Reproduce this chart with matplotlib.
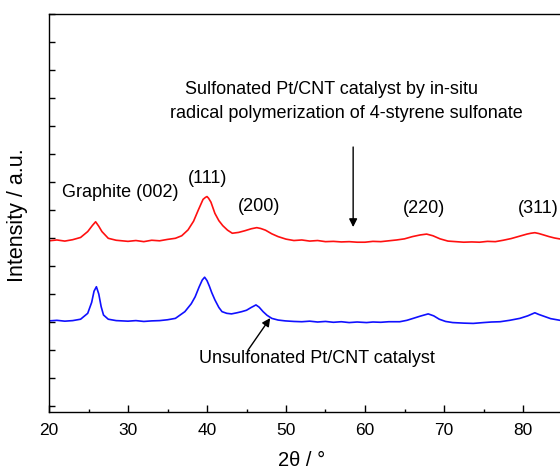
import numpy as np
import matplotlib
matplotlib.use('Agg')
import matplotlib.pyplot as plt

plt.rcParams['font.family'] = ['Liberation Sans', 'DejaVu Sans']

# ---------------------------------------------------------------
# data (2theta in deg, intensity in a.u.)
# ---------------------------------------------------------------
red_2theta = [20, 21, 22, 23, 24, 24.9, 25.5, 25.9, 26.3, 26.7, 27.5, 28.5,
              30, 31, 32, 33, 34, 35, 36, 36.8, 37.6, 38.3, 38.9, 39.5,
              39.8, 40.0, 40.2, 40.5, 41.0, 41.5, 42.0, 42.6, 43.2, 44.0,
              44.8, 45.6, 46.3, 46.8, 47.4, 48.2, 49.0, 50.0, 51, 52, 53,
              54, 55, 56, 57, 58, 59, 60, 61, 62, 63, 64, 65, 66, 67, 67.8,
              68.6, 69.5, 70.5, 71.5, 72.5, 73.5, 74.5, 75.5, 76.5, 77.5,
              78.5, 79.5, 80.5, 81.0, 81.5, 82.0, 82.6, 83.3, 84.0, 85.0]
red_intensity = [5.90, 5.93, 5.89, 5.94, 6.02, 6.23, 6.45, 6.58, 6.42, 6.23,
                 5.99, 5.92, 5.88, 5.91, 5.87, 5.92, 5.90, 5.95, 5.99, 6.08,
                 6.29, 6.60, 7.00, 7.38, 7.45, 7.48, 7.42, 7.28, 6.88, 6.62,
                 6.44, 6.28, 6.17, 6.20, 6.26, 6.33, 6.37, 6.34, 6.28, 6.15,
                 6.05, 5.96, 5.91, 5.93, 5.89, 5.91, 5.87, 5.88, 5.86, 5.87,
                 5.85, 5.85, 5.88, 5.87, 5.90, 5.93, 5.97, 6.05, 6.11, 6.14,
                 6.08, 5.97, 5.89, 5.87, 5.85, 5.86, 5.85, 5.88, 5.87, 5.92,
                 5.98, 6.06, 6.14, 6.17, 6.19, 6.16, 6.11, 6.05, 6.00, 5.95]

blue_2theta = [20, 21, 22, 23, 24, 24.9, 25.4, 25.7, 26.0, 26.3, 26.6, 26.9,
               27.5, 28.5, 30, 31, 32, 33, 34, 35, 36, 37.2, 38.0, 38.5,
               39.0, 39.4, 39.7, 40.0, 40.3, 40.6, 41.0, 41.5, 41.9, 42.5,
               43.1, 43.8, 44.4, 45.0, 45.6, 46.2, 46.6, 47.1, 47.6, 48.2,
               49.0, 49.9, 51, 52, 53, 54, 55, 56, 57, 58, 59, 60.2, 61, 62,
               63, 64.4, 65.3, 66.1, 67, 68, 68.7, 69.4, 70.2, 71.1, 72.5,
               73.7, 75, 76, 77.1, 78.3, 79.6, 80.6, 81.5, 82.0, 82.6, 83.5,
               84.7, 85.5]
blue_intensity = [3.04, 3.06, 3.03, 3.05, 3.10, 3.31, 3.70, 4.10, 4.26, 4.00,
                  3.55, 3.25, 3.10, 3.05, 3.03, 3.05, 3.02, 3.04, 3.05, 3.08,
                  3.13, 3.37, 3.65, 3.90, 4.25, 4.50, 4.60, 4.48, 4.28, 4.05,
                  3.79, 3.52, 3.37, 3.31, 3.29, 3.33, 3.37, 3.42, 3.52, 3.61,
                  3.53, 3.37, 3.24, 3.13, 3.07, 3.04, 3.02, 3.01, 3.03, 3.00,
                  3.02, 2.99, 3.01, 2.98, 3.00, 2.98, 3.00, 2.99, 3.01, 3.01,
                  3.06, 3.13, 3.21, 3.29, 3.22, 3.10, 3.02, 2.98, 2.96, 2.95,
                  2.98, 3.00, 3.01, 3.06, 3.13, 3.22, 3.33, 3.27, 3.21, 3.12,
                  3.06, 3.04]

peak_labels = ['Graphite (002)', '(111)', '(200)', '(220)', '(311)']
peak_label_x = [29.0, 40.1, 46.6, 67.5, 81.9]
peak_label_y = [7.64, 8.14, 7.11, 7.07, 7.07]

x_ticks = [20, 30, 40, 50, 60, 70, 80]
x_minor = [25, 35, 45, 55, 65, 75, 85]
y_ticks = list(range(0, 15))

# ---------------------------------------------------------------
# figure
# ---------------------------------------------------------------
fig = plt.figure(figsize=(5.6, 4.7), dpi=100)
# axes runs past the right edge like in the (cropped) reference
ax = fig.add_axes([0.0875, 0.1234, 0.9875, 0.8468])

ax.plot(red_2theta, red_intensity, color='#ff1010', linewidth=1.2)
ax.plot(blue_2theta, blue_intensity, color='#1010ff', linewidth=1.2)

ax.set_xlim(20, 90)
ax.set_ylim(-0.214, 14)

ax.set_xticks(x_ticks)
ax.set_xticks(x_minor, minor=True)
ax.set_yticks(y_ticks)
ax.set_yticklabels([])
ax.tick_params(direction='in', width=1.0, labelsize=12.5, pad=8)
ax.tick_params(axis='x', which='major', length=5)
ax.tick_params(axis='x', which='minor', length=2.5, width=1.0, direction='in')
ax.tick_params(axis='y', which='major', length=4.5)
for sp in ax.spines.values():
    sp.set_linewidth(1.0)

ax.set_ylabel('Intensity / a.u.', fontsize=15.5)
ax.yaxis.set_label_coords(-0.038, 0.494)
ax.set_xlabel('2θ / °', fontsize=14.5)
ax.xaxis.set_label_coords(0.456, -0.098)

for txt, px, py in zip(peak_labels, peak_label_x, peak_label_y):
    ax.text(px, py, txt, fontsize=13, ha='center', va='center')

ax.text(55.7, 11.29, 'Sulfonated Pt/CNT catalyst by in-situ',
        fontsize=13, ha='center', va='center')
ax.text(57.6, 10.46, 'radical polymerization of 4-styrene sulfonate',
        fontsize=13, ha='center', va='center')
ax.annotate('', xy=(58.5, 6.39), xytext=(58.5, 9.25),
            arrowprops=dict(arrowstyle='-|>', color='black', lw=1.0,
                            mutation_scale=12, shrinkA=0, shrinkB=0))

ax.text(53.9, 1.71, 'Unsulfonated Pt/CNT catalyst',
        fontsize=13, ha='center', va='center')
ax.annotate('', xy=(48.0, 3.14), xytext=(45.2, 2.0),
            arrowprops=dict(arrowstyle='-|>', color='black', lw=1.0,
                            mutation_scale=12, shrinkA=0, shrinkB=0))

fig.savefig('out.png', dpi=100)
